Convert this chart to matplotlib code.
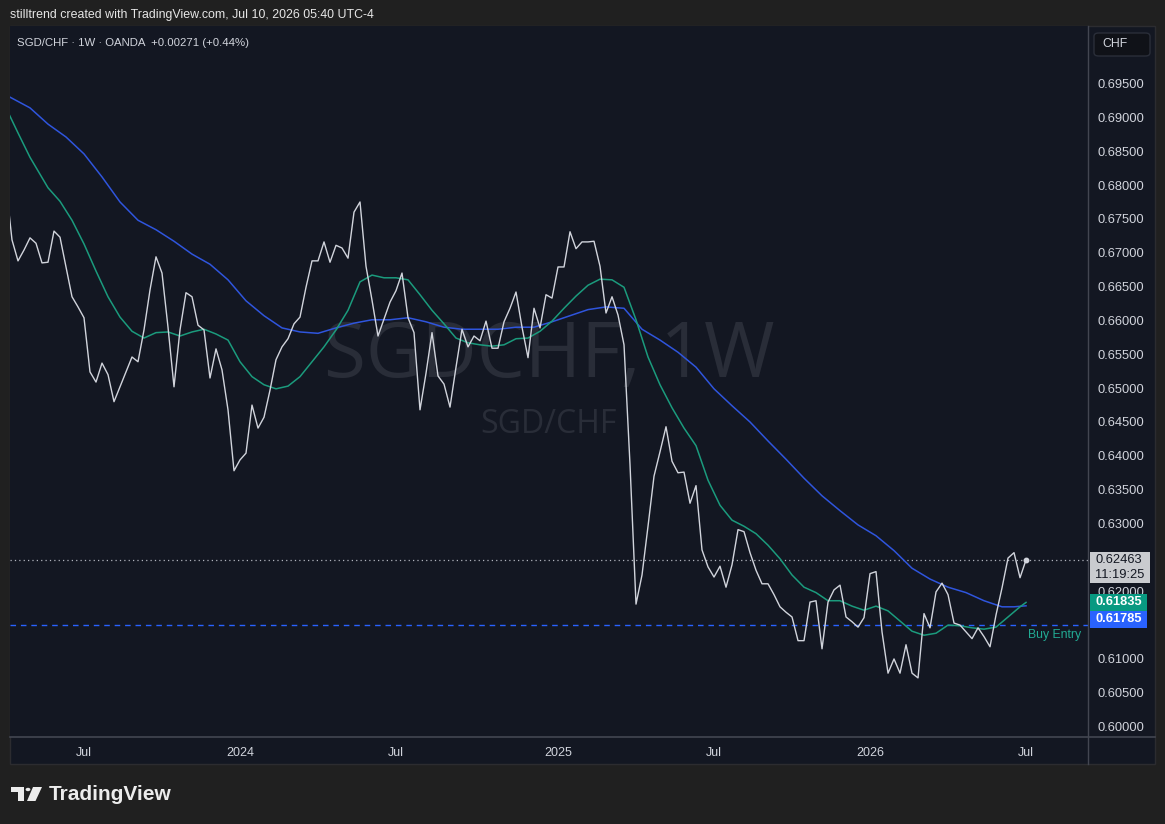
import matplotlib
matplotlib.use("Agg")
import matplotlib.pyplot as plt  # noqa: E402
import matplotlib.dates as mdates  # noqa: E402
from matplotlib.patches import Rectangle, FancyBboxPatch, Polygon, Circle  # noqa: E402
from matplotlib.lines import Line2D  # noqa: E402
from matplotlib.transforms import blended_transform_factory  # noqa: E402
import pandas as pd  # noqa: E402

# ---- data (weekly closes, SGD/CHF, OANDA) -----------------------------------
START = "2023-04-03"
close = [
    0.6800, 0.6719, 0.6688, 0.6704, 0.6722, 0.6714, 0.6685, 0.6686, 0.6732, 0.6723,
    0.6679, 0.6635, 0.6620, 0.6604, 0.6524, 0.6509, 0.6537, 0.6520, 0.6480, 0.6502,
    0.6524, 0.6546, 0.6539, 0.6586, 0.6645, 0.6694, 0.6670, 0.6590, 0.6502, 0.6586,
    0.6641, 0.6635, 0.6593, 0.6586, 0.6515, 0.6558, 0.6527, 0.6468, 0.6378, 0.6394,
    0.6404, 0.6475, 0.6441, 0.6457, 0.6497, 0.6542, 0.6561, 0.6573, 0.6595, 0.6605,
    0.6649, 0.6688, 0.6688, 0.6716, 0.6686, 0.6711, 0.6707, 0.6692, 0.6760, 0.6775,
    0.6680, 0.6630, 0.6577, 0.6602, 0.6627, 0.6644, 0.6670, 0.6604, 0.6582, 0.6468,
    0.6522, 0.6582, 0.6518, 0.6506, 0.6472, 0.6531, 0.6587, 0.6561, 0.6577, 0.6570,
    0.6599, 0.6559, 0.6559, 0.6598, 0.6618, 0.6642, 0.6590, 0.6545, 0.6618, 0.6589,
    0.6638, 0.6633, 0.6679, 0.6679, 0.6731, 0.6706, 0.6716, 0.6716, 0.6717, 0.6680,
    0.6611, 0.6635, 0.6608, 0.6564, 0.6387, 0.6181, 0.6224, 0.6296, 0.6370, 0.6406,
    0.6443, 0.6392, 0.6375, 0.6376, 0.6330, 0.6356, 0.6261, 0.6236, 0.6221, 0.6237,
    0.6206, 0.6239, 0.6291, 0.6288, 0.6257, 0.6231, 0.6211, 0.6211, 0.6195, 0.6177,
    0.6169, 0.6162, 0.6127, 0.6127, 0.6184, 0.6186, 0.6115, 0.6184, 0.6202, 0.6209,
    0.6162, 0.6155, 0.6147, 0.6161, 0.6226, 0.6229, 0.6140, 0.6079, 0.6100, 0.6079,
    0.6121, 0.6079, 0.6072, 0.6167, 0.6146, 0.6199, 0.6212, 0.6195, 0.6153, 0.6150,
    0.6140, 0.6130, 0.6146, 0.6133, 0.6118, 0.6165, 0.6205, 0.6249, 0.6257, 0.6220,
    0.62463,
]

# fast MA (green), sampled: week index -> value
ma_fast_idx = [0, 2, 4, 7, 9, 11, 13, 15, 17, 19, 21, 23, 25, 27, 29, 31, 33, 35, 37, 39,
               41, 43, 45, 47, 49, 51, 53, 55, 57, 59, 61, 63, 65, 67, 69, 71, 73, 75, 77, 79,
               81, 83, 85, 87, 89, 91, 93, 95, 97, 99, 101, 103, 105, 107, 109, 111, 113, 115,
               117, 119, 121, 123, 125, 127, 129, 131, 133, 135, 137, 139, 141, 143, 145, 147,
               149, 151, 153, 155, 157, 159, 161, 163, 165, 167, 169, 170]
ma_fast = [0.6914, 0.6877, 0.6841, 0.6796, 0.6776, 0.6748, 0.6713, 0.6673, 0.6635, 0.6605,
           0.6584, 0.6574, 0.6582, 0.6583, 0.6577, 0.6583, 0.6587, 0.6580, 0.6571, 0.6539,
           0.6517, 0.6505, 0.6499, 0.6503, 0.6517, 0.6539, 0.6561, 0.6586, 0.6615, 0.6657,
           0.6667, 0.6663, 0.6663, 0.6660, 0.6638, 0.6615, 0.6595, 0.6574, 0.6567, 0.6564,
           0.6562, 0.6564, 0.6573, 0.6574, 0.6584, 0.6599, 0.6618, 0.6636, 0.6652, 0.6661,
           0.6660, 0.6649, 0.6601, 0.6546, 0.6505, 0.6471, 0.6441, 0.6415, 0.6364, 0.6327,
           0.6305, 0.6296, 0.6285, 0.6268, 0.6248, 0.6224, 0.6206, 0.6198, 0.6186, 0.6186,
           0.6178, 0.6172, 0.6178, 0.6171, 0.6156, 0.6141, 0.6135, 0.6138, 0.6150, 0.6149,
           0.6146, 0.6144, 0.6147, 0.6162, 0.6177, 0.61835]

# slow MA (blue), sampled
ma_slow_idx = [0, 4, 7, 10, 13, 16, 19, 22, 25, 28, 31, 34, 37, 40, 43, 46, 49, 52, 55, 58,
               61, 64, 67, 70, 73, 76, 79, 82, 85, 88, 91, 94, 97, 100, 103, 106, 109, 112,
               115, 118, 121, 124, 127, 130, 133, 136, 139, 142, 145, 148, 151, 154, 157,
               160, 163, 166, 168, 170]
ma_slow = [0.6933, 0.6914, 0.6890, 0.6871, 0.6846, 0.6812, 0.6775, 0.6748, 0.6734, 0.6717,
           0.6698, 0.6683, 0.6660, 0.6629, 0.6607, 0.6589, 0.6583, 0.6581, 0.6589, 0.6596,
           0.6601, 0.6601, 0.6604, 0.6598, 0.6590, 0.6587, 0.6587, 0.6587, 0.6590, 0.6590,
           0.6598, 0.6607, 0.6616, 0.6620, 0.6618, 0.6587, 0.6571, 0.6553, 0.6531, 0.6499,
           0.6474, 0.6450, 0.6422, 0.6395, 0.6367, 0.6341, 0.6319, 0.6298, 0.6282, 0.6260,
           0.6234, 0.6218, 0.6206, 0.6198, 0.6186, 0.6177, 0.6177, 0.61785]

buy_entry = 0.6150
tick_dates = ["2023-07-03", "2024-01-01", "2024-07-01", "2025-01-06",
              "2025-07-07", "2026-01-05", "2026-07-06"]
tick_labels = ["Jul", "2024", "Jul", "2025", "Jul", "2026", "Jul"]
price_ticks = [round(0.600 + 0.005 * k, 3) for k in range(20)]
hidden_ticks = [0.615]   # covered by the MA price tags on the scale

# ---- style ------------------------------------------------------------------
BG = "#131722"
OUTER = "#202020"
TXT = "#d1d4dc"
GRID = "#434651"
C_PRICE = "#d1d4dc"
C_FAST = "#1b9b7d"
C_SLOW = "#2f55dd"
C_BLUE = "#2962ff"
C_GREEN = "#089981"
WM = "#292d38"
W, H = 1165, 824
plt.rcParams["font.family"] = ["Liberation Sans", "DejaVu Sans"]


def fx(px):
    return px / W


def fy(py):
    return 1 - py / H


dates = pd.date_range(START, periods=len(close), freq="W-MON")
x0 = mdates.date2num(dates[0])

fig = plt.figure(figsize=(W / 100, H / 100), dpi=100, facecolor=OUTER)
ax = fig.add_axes([fx(10), fy(737), fx(1078), 711 / H], facecolor=BG)

# panel background + separators
fig.add_artist(Rectangle((fx(10), fy(764)), fx(1145), 738 / H, transform=fig.transFigure,
                         fc=BG, ec="#2c2c30", lw=1, zorder=-1))
fig.add_artist(Line2D([fx(10), fx(1155)], [fy(737), fy(737)], transform=fig.transFigure,
                      color=GRID, lw=1.2))
fig.add_artist(Line2D([fx(1088), fx(1088)], [fy(764), fy(26)], transform=fig.transFigure,
                      color=GRID, lw=1))

# watermark
ax.text(0.5, 0.535, "SGDCHF, 1W", transform=ax.transAxes, ha="center", va="center",
        fontsize=55, color=WM, family=["Open Sans", "DejaVu Sans"], zorder=0)
ax.text(0.5, 0.44, "SGD/CHF", transform=ax.transAxes, ha="center", va="center",
        fontsize=23, color=WM, family=["Open Sans", "DejaVu Sans"], zorder=0)

# series
ax.plot(dates[ma_slow_idx], ma_slow, color=C_SLOW, lw=1.1, zorder=3)
ax.plot(dates[ma_fast_idx], ma_fast, color=C_FAST, lw=1.1, zorder=3)
ax.plot(dates, close, color=C_PRICE, lw=1.0, zorder=4)
ax.plot(dates[-1:], close[-1:], "o", ms=3.2, color=C_PRICE, zorder=5)

# horizontal levels
ax.axhline(close[-1], color="#b2b5be", lw=0.9, ls=(0, (1, 2.5)), zorder=2)
ax.axhline(buy_entry, color=C_BLUE, lw=1.0, ls=(0, (4, 3.5)), zorder=2)
ax.annotate("Buy Entry", xy=(0.994, buy_entry), xycoords=("axes fraction", "data"),
            xytext=(0, -3), textcoords="offset points", ha="right", va="top",
            fontsize=8.8, color="#22ab94")

ax.set_xlim(x0 + 7 * 0.667, x0 + 7 * 180.33)
ax.set_ylim(0.598471, 0.703493)

ax.set_xticks(pd.to_datetime(tick_dates))
ax.set_xticklabels(tick_labels)
ax.yaxis.tick_right()
ax.set_yticks(price_ticks)
ax.set_yticklabels(["" if v in hidden_ticks else f"{v:.5f}" for v in price_ticks])
ax.tick_params(axis="y", length=0, pad=6.5, labelsize=9.3, labelcolor=TXT)
ax.tick_params(axis="x", length=0, pad=7, labelsize=9, labelcolor=TXT)
for s in ax.spines.values():
    s.set_visible(False)

# price tags on the right scale
tr = blended_transform_factory(ax.transAxes, ax.transData)
tag_h = 17 / 6770
tag_x = 1.0019
tag_tx = 1.0065


def tag(center, text, fc, tc, width=0.0525, bold=True):
    ax.add_patch(Rectangle((tag_x, center - tag_h / 2), width, tag_h, transform=tr,
                           fc=fc, ec="none", clip_on=False, zorder=10))
    ax.text(tag_tx, center, text, transform=tr, ha="left", va="center", fontsize=9.3,
            color=tc, weight="bold" if bold else "normal", clip_on=False, zorder=11)


last = close[-1]
ax.add_patch(Rectangle((tag_x, last - 23 / 6770), 0.0557, 30.5 / 6770, transform=tr,
                       fc="#c9cbcf", ec="none", clip_on=False, zorder=10))
ax.text(tag_tx, last, f"{last:.5f}", transform=tr, ha="left", va="center", fontsize=9.3,
        color="#131722", clip_on=False, zorder=11)
ax.text(tag_tx, last - 15 / 6770, "11:19:25", transform=tr, ha="left", va="center",
        fontsize=9.3, color="#131722", clip_on=False, zorder=11)
tag(ma_fast[-1], f"{ma_fast[-1]:.5f}", C_GREEN, "white")
tag(ma_fast[-1] - tag_h, f"{ma_slow[-1]:.5f}", C_BLUE, "white")

# header texts
fig.text(fx(10), fy(15), "stilltrend created with TradingView.com, Jul 10, 2026 05:40 UTC-4",
         ha="left", va="center", fontsize=8.9, color="#e6e6e6")
fig.text(fx(17), fy(43), "SGD/CHF \u00b7 1W \u00b7 OANDA  +0.00271 (+0.44%)",
         ha="left", va="center", fontsize=8.2, color=TXT)

# currency button
fig.add_artist(FancyBboxPatch((fx(1094), fy(56)), fx(56), 23 / H,
                              boxstyle="round,pad=0,rounding_size=0.004",
                              transform=fig.transFigure, fc="#101218", ec="#2a2e39", lw=1))
fig.text(fx(1102), fy(44), "CHF", ha="left", va="center", fontsize=8.8, color=TXT)

# TradingView logo
LOGO = "#ececec"
fig.add_artist(Polygon([(fx(11), fy(787)), (fx(24), fy(787)), (fx(24), fy(801)),
                        (fx(18), fy(801)), (fx(18), fy(792)), (fx(11), fy(792))],
                       closed=True, transform=fig.transFigure, fc=LOGO, ec="none"))
fig.add_artist(Circle((fx(28), fy(789.5)), fx(2.4), transform=fig.transFigure,
                      fc=LOGO, ec="none"))
fig.add_artist(Polygon([(fx(33), fy(787)), (fx(42), fy(787)), (fx(35.5), fy(801)),
                        (fx(27), fy(801))],
                       closed=True, transform=fig.transFigure, fc=LOGO, ec="none"))
fig.text(fx(49), fy(795), "TradingView", ha="left", va="center", fontsize=15,
         weight="bold", color=LOGO)

fig.savefig("out.png", dpi=100, facecolor=OUTER)
